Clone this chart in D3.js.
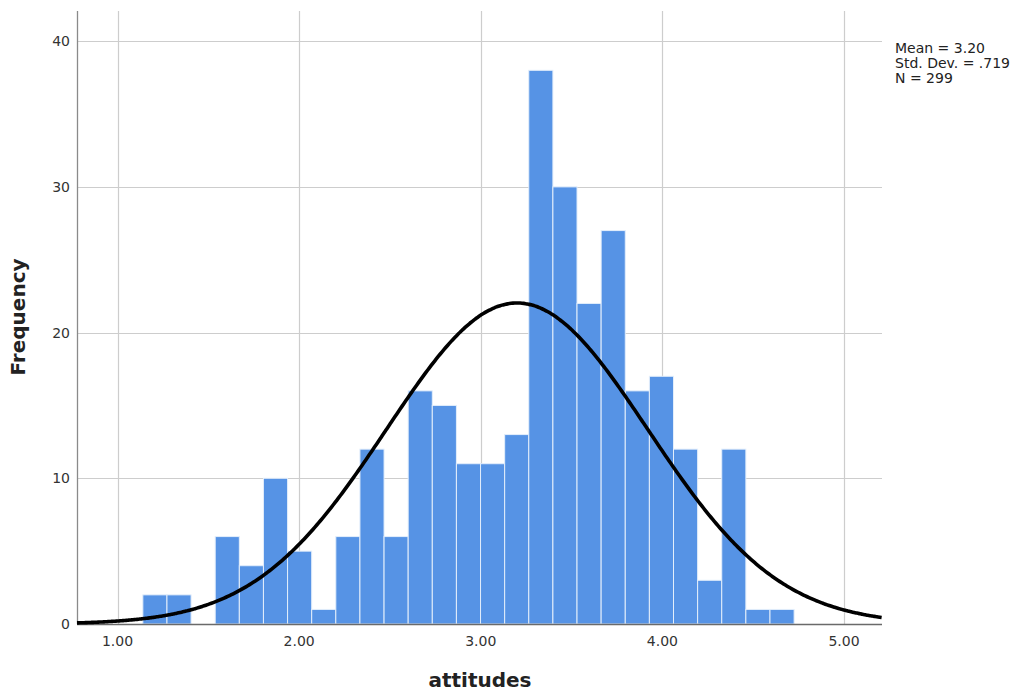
<!DOCTYPE html>
<html>
<head>
<meta charset="utf-8">
<script src="https://cdn.jsdelivr.net/npm/d3@7"></script>
<style>
  body { margin: 0; background: #fff; }
  text { font-family: "DejaVu Sans", sans-serif; }
</style>
</head>
<body>
<main></main>
<script>
// histogram bins (attitudes)
const binStart = 1.1395;
const binWidth = 0.1328;
const counts = [2, 2, 0, 6, 4, 10, 5, 1, 6, 12, 6, 16, 15, 11, 11, 13, 38, 30, 22, 27, 16, 17, 12, 3, 12, 1, 1];
const xTicks = [1, 2, 3, 4, 5];
const yTicks = [0, 10, 20, 30, 40];
const stats = { mean: 3.20, sd: 0.719, n: 299 };
const statLines = ["Mean = 3.20", "Std. Dev. = .719", "N = 299"];

const w = 1021;
const h = 696;
const plotL = 77, plotR = 882, plotT = 11, plotB = 624;

const svg = d3.select("main")
  .append("svg")
  .attr("width", w)
  .attr("height", h);

const x = d3.scaleLinear().domain([0.777, 5.209]).range([plotL, plotR]);
const y = d3.scaleLinear().domain([0, 42.07]).range([plotB, plotT]);

// grid
svg.selectAll("line.vgrid")
  .data(xTicks)
  .enter()
  .append("line")
  .attr("x1", d => Math.round(x(d)) + 0.5)
  .attr("x2", d => Math.round(x(d)) + 0.5)
  .attr("y1", plotT)
  .attr("y2", plotB)
  .style("stroke", "#cdcdcd")
  .style("stroke-width", 1.2);

svg.selectAll("line.hgrid")
  .data(yTicks.filter(d => d > 0))
  .enter()
  .append("line")
  .attr("x1", plotL)
  .attr("x2", plotR)
  .attr("y1", d => Math.round(y(d)) + 0.5)
  .attr("y2", d => Math.round(y(d)) + 0.5)
  .style("stroke", "#cdcdcd")
  .style("stroke-width", 1.2);

// bars
const bins = counts.map((c, i) => ({ x0: binStart + i * binWidth, x1: binStart + (i + 1) * binWidth, c }));

svg.selectAll("rect.bar")
  .data(bins.filter(b => b.c > 0))
  .enter()
  .append("rect")
  .attr("class", "bar")
  .attr("x", d => x(d.x0))
  .attr("y", d => y(d.c))
  .attr("width", d => x(d.x1) - x(d.x0))
  .attr("height", d => y(0) - y(d.c))
  .style("fill", "#5693e5")
  .style("stroke", "#e3eefb")
  .style("stroke-width", 1);

// axes lines
svg.append("line")
  .attr("x1", plotL + 0.5).attr("x2", plotL + 0.5)
  .attr("y1", plotT).attr("y2", plotB)
  .style("stroke", "#8a8a8a").style("stroke-width", 1.3);

svg.append("line")
  .attr("x1", plotL).attr("x2", plotR)
  .attr("y1", plotB + 0.5).attr("y2", plotB + 0.5)
  .style("stroke", "#6a6a6a").style("stroke-width", 1.3);

// normal curve from mean / sd / N
const scale = stats.n * binWidth / (stats.sd * Math.sqrt(2 * Math.PI));
const curvePts = d3.range(x.domain()[0], x.domain()[1] + 0.001, 0.01)
  .map(v => [v, scale * Math.exp(-0.5 * Math.pow((v - stats.mean) / stats.sd, 2))]);

svg.append("path")
  .datum(curvePts)
  .attr("d", d3.line().x(d => x(d[0])).y(d => y(d[1])).curve(d3.curveBasis))
  .style("fill", "none")
  .style("stroke", "#000")
  .style("stroke-width", 3.6);

// tick labels
svg.selectAll("text.xtick")
  .data(xTicks)
  .enter()
  .append("text")
  .attr("x", d => x(d))
  .attr("y", 646)
  .style("text-anchor", "middle")
  .style("font-size", "14px")
  .style("fill", "#333")
  .text(d => d3.format(".2f")(d));

svg.selectAll("text.ytick")
  .data(yTicks)
  .enter()
  .append("text")
  .attr("x", 70)
  .attr("y", d => y(d) + 5)
  .style("text-anchor", "end")
  .style("font-size", "14px")
  .style("fill", "#333")
  .text(d => d);

// axis titles
svg.append("text")
  .attr("x", 480)
  .attr("y", 687)
  .style("text-anchor", "middle")
  .style("font-size", "20px")
  .style("font-weight", "bold")
  .style("fill", "#222")
  .text("attitudes");

svg.append("text")
  .attr("transform", "translate(25,317)rotate(-90)")
  .style("text-anchor", "middle")
  .style("font-size", "20px")
  .style("font-weight", "bold")
  .style("fill", "#222")
  .text("Frequency");

// stats box
svg.selectAll("text.stat")
  .data(statLines)
  .enter()
  .append("text")
  .attr("x", 895)
  .attr("y", (d, i) => 52.5 + i * 15)
  .style("font-size", "14px")
  .style("fill", "#222")
  .text(d => d);
</script>
</body>
</html>
